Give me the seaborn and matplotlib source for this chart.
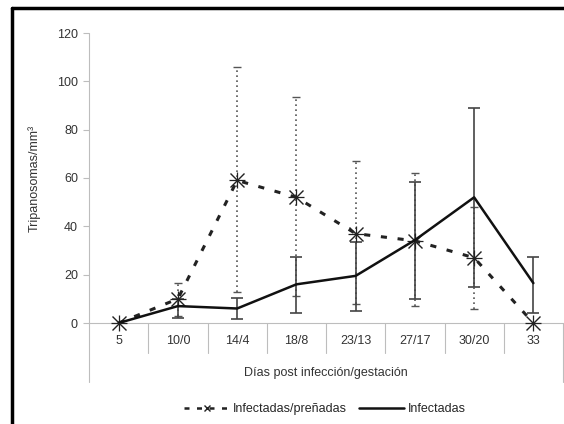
import numpy as np
import pandas as pd
import matplotlib
matplotlib.use("Agg")
import matplotlib.pyplot as plt
import seaborn as sns
from matplotlib.lines import Line2D

categories = ["5", "10/0", "14/4", "18/8", "23/13", "27/17", "30/20", "33"]
preg_mean = [0, 10, 59, 52, 37, 34, 27, 0]
preg_upper = [0, 16.5, 106, 93.5, 67, 62, 48, 0]
preg_lower = [0, 3, 13, 11, 8, 7, 6, 0]
inf_mean = [0, 7, 6, 16, 19.5, 34.3, 52, 16.5]
inf_upper = [0, 10, 10.3, 27.4, 33.5, 58.5, 89, 27.4]
inf_lower = [0, 2, 1.7, 4.2, 5, 10, 15, 4.2]
yticks = [0, 20, 40, 60, 80, 100, 120]

sns.set_style("white")
plt.rcParams['font.family'] = ['Liberation Sans', 'DejaVu Sans']

fig = plt.figure(figsize=(5.64, 4.24), dpi=100)
ax = fig.add_axes([89/564, 1-323/424, (563-89)/564, 290/424])

x = np.arange(len(categories))
df = pd.DataFrame({"x": np.concatenate([x, x]),
                   "y": preg_mean + inf_mean,
                   "serie": ["Infectadas/preñadas"]*len(x) + ["Infectadas"]*len(x)})

grey = "#bdbdbd"
txt = "#333333"
fs = 9
pm = np.array(preg_mean); im = np.array(inf_mean)
yerr_p = np.vstack([pm - np.array(preg_lower), np.array(preg_upper) - pm])
yerr_i = np.vstack([im - np.array(inf_lower), np.array(inf_upper) - im])
sel = slice(1, 7)
eb1 = ax.errorbar(x[sel], pm[sel], yerr=yerr_p[:, sel], fmt="none", ecolor="#555555",
                  elinewidth=1.2, capsize=3, capthick=1.0, zorder=2)
for c in eb1.lines[2]:
    c.set_linestyle((0, (1, 2)))
eb2 = ax.errorbar(x[1:], im[1:], yerr=yerr_i[:, 1:], fmt="none", ecolor="#444444",
                  elinewidth=1.2, capsize=4, capthick=1.2, zorder=2)

sub_p = df[df.serie == "Infectadas/preñadas"]
sns.lineplot(data=sub_p, x="x", y="y", ax=ax,
             color="#222222", linewidth=2.2, linestyle=(0, (2, 3.5)), marker="x",
             markersize=10, markeredgewidth=1.0, markeredgecolor="#222222",
             legend=False, zorder=3, clip_on=False)
sns.lineplot(data=sub_p, x="x", y="y", ax=ax,
             color="#222222", linewidth=0, marker="+", markersize=12,
             markeredgewidth=0.9, markeredgecolor="#222222",
             legend=False, zorder=3, clip_on=False)
sns.lineplot(data=df[df.serie == "Infectadas"], x="x", y="y", ax=ax,
             color="#111111", linewidth=1.8, legend=False, zorder=4)

ax.set_xlim(-0.5, len(categories) - 0.5)
ax.set_ylim(0, 120)
ax.set_yticks(yticks)
ax.set_yticklabels([str(t) for t in yticks], fontsize=fs, color=txt)
ax.tick_params(axis="y", length=4, width=0.8, color=grey, pad=4, left=True)
ax.set_xticks(x)
ax.set_xticklabels(categories, fontsize=fs, color=txt)
ax.tick_params(axis="x", length=0, pad=9)
for s in ["top", "right"]:
    ax.spines[s].set_visible(False)
ax.spines["bottom"].set_color(grey)
ax.spines["bottom"].set_linewidth(0.8)
ax.spines["left"].set_visible(False)

tr = ax.get_xaxis_transform()
ax.plot([-0.5, -0.5], [-59/290, 1.0], color=grey, lw=0.8, transform=tr, clip_on=False)
ax.plot([7.5, 7.5], [-59/290, 0.0], color=grey, lw=0.8, transform=tr, clip_on=False)
for b in np.arange(0.5, 7, 1.0):
    ax.plot([b, b], [-30/290, 0.0], color=grey, lw=0.8, transform=tr, clip_on=False)

ax.set_ylabel("Tripanosomas/mm³", fontsize=fs, color=txt, labelpad=12)
ax.set_xlabel("Días post infección/gestación", fontsize=fs, color=txt, labelpad=14)

handles = [Line2D([], [], color="#222222", lw=1.8, linestyle=(0, (2, 3)), marker="x",
                  markersize=5, markeredgewidth=1.0),
           Line2D([], [], color="#111111", lw=1.8)]
fig.legend(handles, ["Infectadas/preñadas", "Infectadas"], loc="center",
           bbox_to_anchor=(325/564, 1-409/424), ncol=2, frameon=False, fontsize=fs,
           handlelength=3.6, handletextpad=0.3, columnspacing=1.0)

fig.add_artist(Line2D([12/564, 12/564], [0, 1-8/424], color="black", lw=2.5,
                      transform=fig.transFigure))
fig.add_artist(Line2D([12/564, 1], [1-8/424, 1-8/424], color="black", lw=2.5,
                      transform=fig.transFigure))

fig.savefig("out.png", dpi=100)
